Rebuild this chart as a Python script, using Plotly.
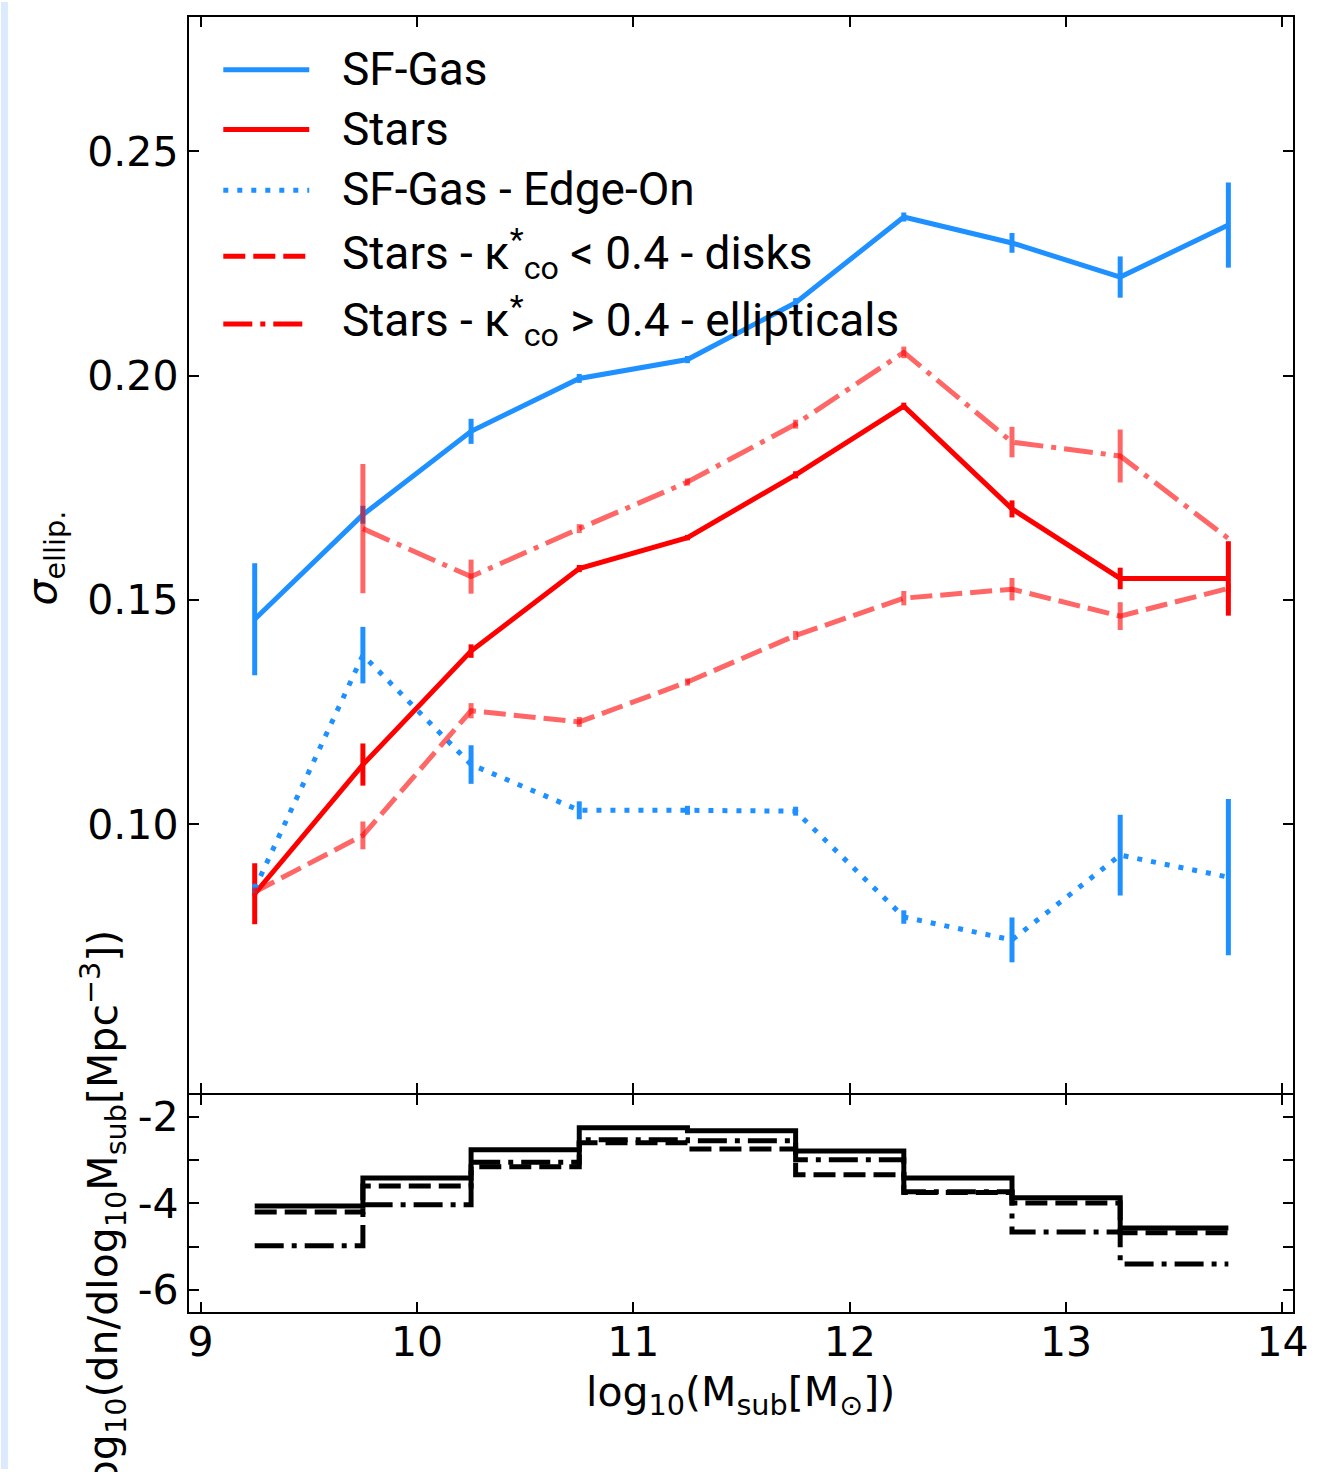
import plotly.graph_objects as go

W, H = 1331, 1472

# ---------------- data ----------------
mass = [9.25, 9.75, 10.25, 10.75, 11.25, 11.75, 12.25, 12.75, 13.25, 13.75]

sfgas = [0.1457, 0.1690, 0.1876, 0.1994, 0.2036, 0.2163, 0.2354, 0.2296, 0.2220, 0.2336]
sfgas_err = [0.0125, 0.0020, 0.0028, 0.0010, 0.0008, 0.0010, 0.0010, 0.0022, 0.0046, 0.0095]

stars = [0.0845, 0.1133, 0.1386, 0.1570, 0.1639, 0.1779, 0.1932, 0.1703, 0.1548, 0.1548]
stars_err = [0.0068, 0.0047, 0.0015, 0.0008, 0.0006, 0.0008, 0.0008, 0.0019, 0.0024, 0.0083]

edge_on = [0.0856, 0.1377, 0.1133, 0.1031, 0.1031, 0.1029, 0.0793, 0.0742, 0.0931, 0.0882]
edge_on_err = [0.0010, 0.0063, 0.0043, 0.0020, 0.0010, 0.0010, 0.0015, 0.0050, 0.0090, 0.0174]

disks = [0.0849, 0.0975, 0.1253, 0.1228, 0.1317, 0.1421, 0.1504, 0.1524, 0.1464, 0.1526]
disks_err = [0.0010, 0.0031, 0.0017, 0.0011, 0.0008, 0.0010, 0.0016, 0.0025, 0.0031, 0.0010]

ellip = [None, 0.1659, 0.1552, 0.1659, 0.1763, 0.1892, 0.2052, 0.1852, 0.1821, 0.1637]
ellip_err = [None, 0.0144, 0.0038, 0.0010, 0.0008, 0.0010, 0.0013, 0.0034, 0.0059, 0.0]

# mass function (step histogram), one value per bin starting at each edge
hist_edges = [9.25, 9.75, 10.25, 10.75, 11.25, 11.75, 12.25, 12.75, 13.25, 13.75]
hist_all = [-4.06, -3.41, -2.76, -2.25, -2.32, -2.79, -3.41, -3.87, -4.57]
hist_disks = [-4.20, -3.60, -3.15, -2.60, -2.74, -3.34, -3.75, -3.99, -4.68]
hist_ellip = [-4.98, -4.03, -3.05, -2.53, -2.55, -2.99, -3.73, -4.66, -5.40]

legend_labels = [
    "SF-Gas",
    "Stars",
    "SF-Gas - Edge-On",
    "Stars - κ<sup>*</sup><sub>co</sub> &lt; 0.4 - disks",
    "Stars - κ<sup>*</sup><sub>co</sub> &gt; 0.4 - ellipticals",
]

x_ticks = [9, 10, 11, 12, 13, 14]
top_y_ticks = [0.10, 0.15, 0.20, 0.25]
bot_y_ticks = [-6, -5, -4, -3, -2]
bot_y_text = ["-6", "", "-4", "", "-2"]

# ---------------- styles ----------------
BLUE = "#1E90FF"
RED = "#FF0000"
RED_A = "rgba(255,0,0,0.6)"
DASH = "22px,8px"
DASHDOT = "29px,8px,5px,8px"
DOT = "5px,9px"
LW = 5

TICK_FONT = dict(family="DejaVu Sans", size=41, color="black")
LEG_FONT = dict(family="Roboto, Liberation Sans, sans-serif", size=46, color="black")


def px_x(p):
    return p / W


def px_y(p):
    return 1 - p / H


fig = go.Figure()


def add_series(y, err, color, dash):
    fig.add_trace(go.Scatter(
        x=mass, y=y, mode="lines", xaxis="x", yaxis="y",
        line=dict(color=color, width=LW, dash=dash),
        error_y=dict(type="data", array=err, visible=True, color=color,
                     thickness=5, width=0),
        showlegend=False, connectgaps=False,
    ))


add_series(sfgas, sfgas_err, BLUE, "solid")
add_series(stars, stars_err, RED, "solid")
add_series(edge_on, edge_on_err, BLUE, DOT)
add_series(disks, disks_err, RED_A, DASH)
add_series(ellip, ellip_err, RED_A, DASHDOT)


def add_hist(vals, dash):
    ys = vals + [vals[-1]]
    fig.add_trace(go.Scatter(
        x=hist_edges, y=ys, mode="lines", xaxis="x2", yaxis="y2",
        line=dict(color="black", width=LW, dash=dash, shape="hv"),
        showlegend=False,
    ))


add_hist(hist_all, "solid")
add_hist(hist_disks, DASH)
add_hist(hist_ellip, DASHDOT)

# ---------------- manual legend ----------------
leg_styles = [(BLUE, "solid"), (RED, "solid"), (BLUE, DOT), (RED, DASH), (RED, DASHDOT)]
leg_y = [68, 128, 189, 255, 323]
shapes = []
annotations = []
for (col, dsh), yy, lab in zip(leg_styles, leg_y, legend_labels):
    shapes.append(dict(type="line", xref="paper", yref="paper",
                       x0=px_x(225), x1=px_x(312), y0=px_y(yy), y1=px_y(yy),
                       line=dict(color=col, width=LW, dash=dsh)))
    shift = 1 if "sub" not in lab else 3
    annotations.append(dict(text=lab, xref="paper", yref="paper",
                            x=px_x(343), y=px_y(yy), xanchor="left", yanchor="middle",
                            yshift=shift, showarrow=False, font=LEG_FONT))

# light blue strip at left edge
shapes.append(dict(type="rect", xref="paper", yref="paper", x0=0, x1=px_x(7),
                   y0=0, y1=1, line=dict(width=0), fillcolor="#dbeafd", layer="below"))

# axis titles
annotations.append(dict(text="log<sub>10</sub>(M<sub>sub</sub>[M<sub>⊙</sub>])",
                        xref="paper", yref="paper", x=px_x(749), y=px_y(1398),
                        xanchor="center", yanchor="middle", showarrow=False,
                        font=TICK_FONT))
annotations.append(dict(text="<i>σ</i><sub>ellip.</sub>",
                        xref="paper", yref="paper", x=px_x(45), y=px_y(558),
                        xanchor="center", yanchor="middle", textangle=-90,
                        showarrow=False, font=TICK_FONT))
annotations.append(dict(text="log<sub>10</sub>(dn/dlog<sub>10</sub>M<sub>sub</sub>[Mpc<sup>−3</sup>])",
                        xref="paper", yref="paper", x=px_x(103), y=px_y(1215),
                        xanchor="center", yanchor="middle", textangle=-90,
                        showarrow=False, font=TICK_FONT))

XR = [8.945, 14.05]
xdom = [px_x(190), px_x(1308)]
common_axis = dict(showline=True, linecolor="black", linewidth=2, mirror="ticks",
                   ticks="inside", ticklen=10, tickwidth=2, tickcolor="black",
                   showgrid=False, zeroline=False, tickfont=TICK_FONT)

fig.update_layout(
    width=W, height=H, autosize=False,
    margin=dict(l=0, r=0, t=0, b=0),
    paper_bgcolor="white", plot_bgcolor="white",
    xaxis=dict(domain=xdom, range=XR, tickvals=x_ticks, showticklabels=False,
               anchor="y", **common_axis),
    yaxis=dict(domain=[px_y(1095), px_y(15)], range=[0.04, 0.28],
               tickvals=top_y_ticks, ticktext=["%.2f" % v for v in top_y_ticks],
               anchor="x", ticklabelstandoff=0, **common_axis),
    xaxis2=dict(domain=xdom, range=XR, tickvals=x_ticks,
                ticktext=[str(v) for v in x_ticks], anchor="y2",
                ticklabelstandoff=-7, **common_axis),
    yaxis2=dict(domain=[px_y(1314), px_y(1097)], range=[-6.5, -1.5],
                tickvals=bot_y_ticks, ticktext=bot_y_text, anchor="x2",
                ticklabelstandoff=0, **common_axis),
    shapes=shapes,
    annotations=annotations,
)

fig.write_html(
    "out.html",
    config={"responsive": False, "displayModeBar": False},
    post_script="document.body.style.margin='0';document.body.style.padding='0';"
                "document.body.style.overflow='hidden';"
                "document.documentElement.style.overflow='hidden';",
)
